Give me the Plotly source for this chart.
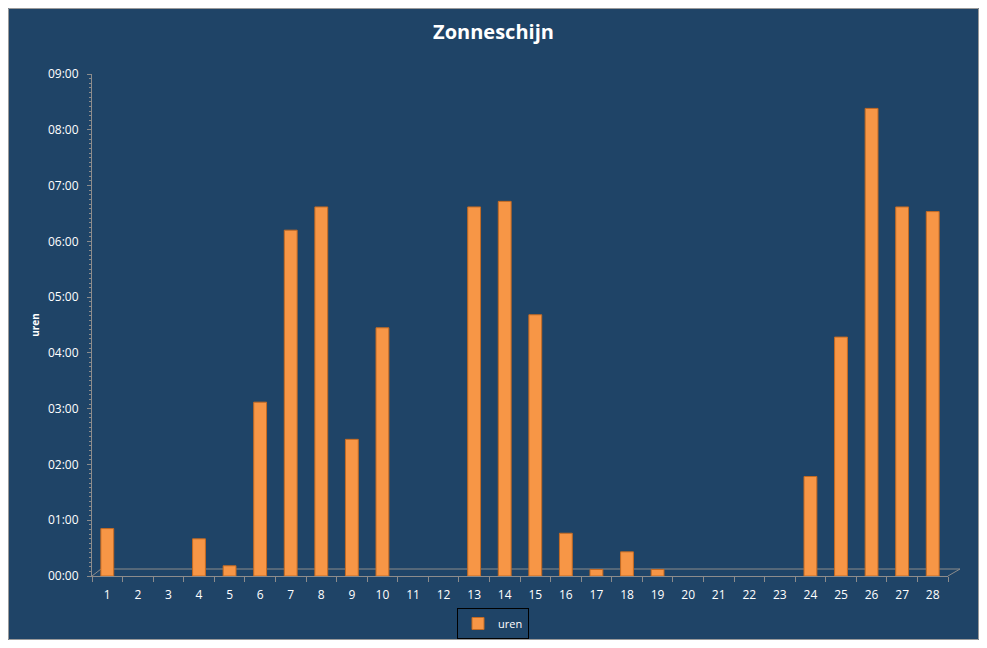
import plotly.graph_objects as go

dagen = list(range(1, 29))
uren = ["00:51", "00:00", "00:00", "00:40", "00:11", "03:07", "06:12", "06:37",
        "02:27", "04:27", "00:00", "00:00", "06:37", "06:43", "04:41", "00:46",
        "00:07", "00:26", "00:07", "00:00", "00:00", "00:00", "00:00", "01:47",
        "04:17", "08:23", "06:37", "06:32"]
y_ticks = [f"{h:02d}:00" for h in range(10)]

_BG = "#1F4467"
_FONT = "#FFFFFF"
_AXIS = "#8C8C8C"
_BAR = "#F79646"
_BAR_EDGE = "#C46A22"


def to_hours(s):
    h, m = s.split(":")
    return int(h) + int(m) / 60


waarden = [to_hours(u) for u in uren]

fig = go.Figure(go.Bar(
    x=dagen, y=waarden,
    name="uren",
    width=0.42,
    marker=dict(color=_BAR,
                line=dict(color=_BAR_EDGE, width=[1 if v > 0 else 0 for v in waarden])),
    customdata=uren,
    hovertemplate="%{x}: %{customdata}<extra></extra>",
))

# page body adds 8px around the figure, so the figure is 16px smaller than the window
W, H = 971, 632
ML, MR, MT, MB = 84, 31, 66, 64
pw, ph = W - ML - MR, H - MT - MB

# 3D-ish floor under the bars, and the outer chart frame
fig.add_shape(type="path", xref="paper", yref="paper",
              path=f"M 0,0 L {9 / pw},{7 / ph} L {(pw + 12) / pw},{7 / ph} L 1,0",
              line=dict(color=_AXIS, width=1), layer="below")
fig.add_shape(type="rect", xref="paper", yref="paper",
              x0=(0.5 - ML) / pw, x1=(W - 0.5 - ML) / pw,
              y0=-(MB - 0.5) / ph, y1=(ph + MT - 0.5) / ph,
              line=dict(color="#9A9A9A", width=1), layer="below")

fig.update_layout(
    width=W, height=H,
    title=dict(text="<b>Zonneschijn</b>", x=0.5, xref="container", xanchor="center",
               y=1 - 24 / H, yref="container", yanchor="middle",
               font=dict(family="Open Sans", size=20, color=_FONT)),
    paper_bgcolor=_BG,
    plot_bgcolor="rgba(0,0,0,0)",
    font=dict(family="Open Sans", size=12, color=_FONT),
    margin=dict(l=ML, r=MR, t=MT, b=MB, autoexpand=False),
    showlegend=True,
    legend=dict(orientation="h", xref="container", x=0.4995, xanchor="center",
                yref="container", y=16.5 / H, yanchor="middle",
                bordercolor="#000000", borderwidth=1, bgcolor="rgba(0,0,0,0)",
                itemwidth=30, font=dict(size=11, color=_FONT)),
    xaxis=dict(
        range=[0.5, 28.5], tickmode="array", tickvals=dagen,
        ticktext=[str(d) for d in dagen],
        showgrid=False, zeroline=False,
        showline=True, linecolor=_AXIS, linewidth=1,
        ticks="", ticklabelstandoff=8,
        minor=dict(tickmode="linear", tick0=0.5, dtick=1, ticks="outside",
                   ticklen=5, tickcolor=_AXIS, showgrid=False),
        fixedrange=True,
    ),
    yaxis=dict(
        range=[0, 9], tickmode="array", tickvals=list(range(10)), ticktext=y_ticks,
        showgrid=False, zeroline=False,
        showline=True, linecolor=_AXIS, linewidth=1,
        ticks="outside", ticklen=4, tickcolor=_AXIS, ticklabelstandoff=6,
        minor=dict(tickmode="linear", dtick=1 / 12, ticks="outside",
                   ticklen=2, tickcolor=_AXIS, showgrid=False),
        title=dict(text="<b>uren</b>", font=dict(size=10, color=_FONT), standoff=6),
        fixedrange=True,
    ),
)

fig.write_html("out.html")
